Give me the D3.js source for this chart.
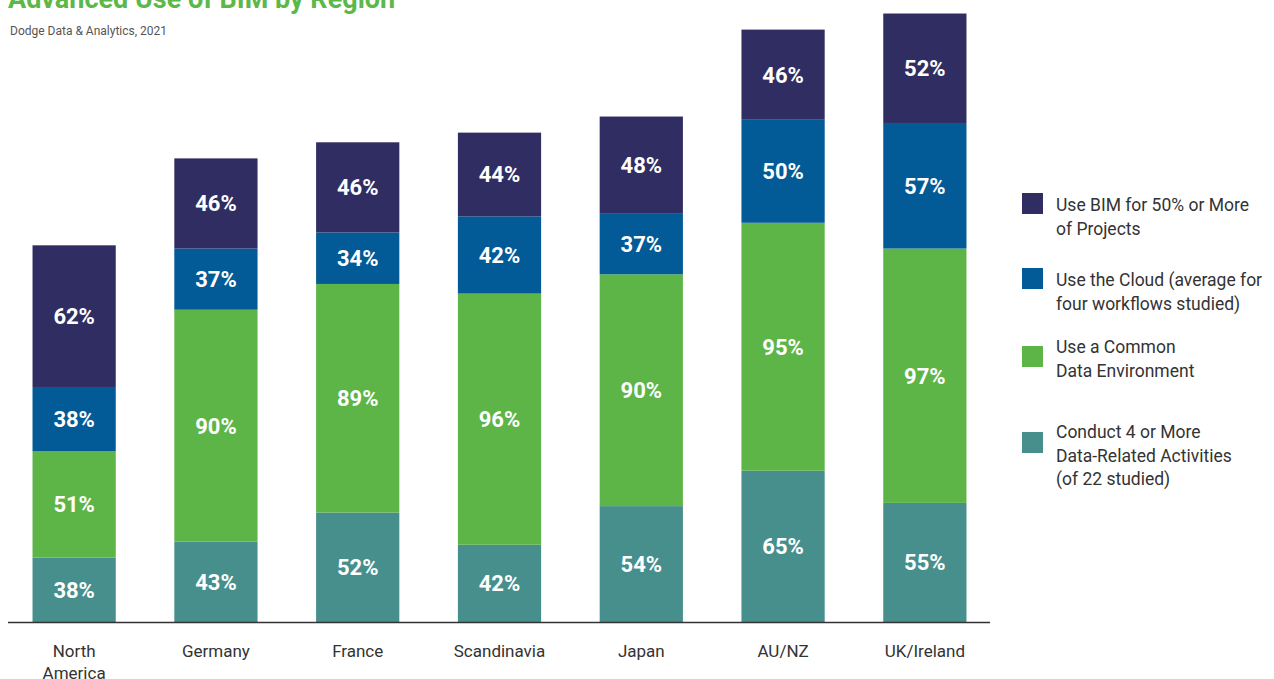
<!DOCTYPE html>
<html>
<head>
<meta charset="utf-8">
<script src="https://cdn.jsdelivr.net/npm/d3@7"></script>
<style>
  body { margin: 0; background: #fff; font-family: Roboto, "Noto Sans", sans-serif; }
  svg { display: block; }
</style>
</head>
<body>
<svg id="chart"></svg>
<script>
// data
const regions = ["North America", "Germany", "France", "Scandinavia", "Japan", "AU/NZ", "UK/Ireland"];
const activities = [38, 43, 52, 42, 54, 65, 55]; // Conduct 4 or more data-related activities
const commonEnv = [51, 90, 89, 96, 90, 95, 97];  // Use a common data environment
const cloud = [38, 37, 34, 42, 37, 50, 57];      // Use the cloud
const bim50 = [62, 46, 46, 44, 48, 46, 52];      // Use BIM for 50% or more

const seriesNames = [
  ["Use BIM for 50% or More", "of Projects"],
  ["Use the Cloud (average for", "four workflows studied)"],
  ["Use a Common", "Data Environment"],
  ["Conduct 4 or More", "Data-Related Activities", "(of 22 studied)"]
];
const colors = ["#302d63", "#025a96", "#5db447", "#468f8c"];

const W = 1274, H = 679;
const baseY = 622;

const svg = d3.select("#chart").attr("width", W).attr("height", H);

// title (cut at the top edge like the original)
svg.append("text")
  .attr("x", 8).attr("y", 8)
  .attr("fill", "#5cb848")
  .attr("font-size", 27).attr("font-weight", 700)
  .text("Advanced Use of BIM by Region");

svg.append("text")
  .attr("x", 10).attr("y", 35)
  .attr("fill", "#555")
  .attr("font-size", 12)
  .text("Dodge Data & Analytics, 2021");

// x band scale for the regions
const x = d3.scaleBand()
  .domain(regions)
  .range([7, 992])
  .paddingInner(0.413)
  .paddingOuter(0.18);

// segment height scale (the original's segments are not drawn from zero)
const h = d3.scaleLinear().domain([18, 100]).range([0, 264]);

// stack bottom to top: activities, common env, cloud, bim
const stackOrder = [activities, commonEnv, cloud, bim50];
const stackColors = [colors[3], colors[2], colors[1], colors[0]];

const segments = [];
regions.forEach((r, i) => {
  let y0 = baseY;
  stackOrder.forEach((arr, s) => {
    const hh = h(arr[i]);
    segments.push({ region: r, value: arr[i], y: y0 - hh, h: hh, color: stackColors[s] });
    y0 -= hh;
  });
});

const g = svg.append("g");

g.selectAll("rect.seg")
  .data(segments)
  .enter().append("rect")
  .attr("class", "seg")
  .attr("x", d => x(d.region))
  .attr("y", d => d.y)
  .attr("width", x.bandwidth())
  .attr("height", d => d.h)
  .attr("fill", d => d.color);

g.selectAll("text.val")
  .data(segments)
  .enter().append("text")
  .attr("class", "val")
  .attr("x", d => x(d.region) + x.bandwidth() / 2)
  .attr("y", d => d.y + d.h / 2)
  .attr("dy", "0.36em")
  .attr("text-anchor", "middle")
  .attr("fill", "#fff")
  .attr("font-size", 22)
  .attr("font-weight", 700)
  .text(d => d.value + "%");

// baseline
svg.append("line")
  .attr("x1", 8).attr("x2", 990)
  .attr("y1", baseY + 0.5).attr("y2", baseY + 0.5)
  .attr("stroke", "#333").attr("stroke-width", 1.5);

// category labels
const labels = svg.selectAll("text.cat")
  .data(regions)
  .enter().append("text")
  .attr("class", "cat")
  .attr("text-anchor", "middle")
  .attr("fill", "#333")
  .attr("font-size", 17)
  .attr("y", 657);

labels.each(function (d) {
  const t = d3.select(this);
  const parts = d === "North America" ? ["North", "America"] : [d];
  parts.forEach((p, k) => {
    t.append("tspan")
      .attr("x", x(d) + x.bandwidth() / 2)
      .attr("dy", k === 0 ? 0 : 22)
      .text(p);
  });
});

// legend
const legendTops = [193, 268, 346, 432];
const legend = svg.append("g");
seriesNames.forEach((lines, i) => {
  legend.append("rect")
    .attr("x", 1022).attr("y", legendTops[i])
    .attr("width", 21).attr("height", 21)
    .attr("fill", colors[i]);
  const firstY = i === 2 ? legendTops[i] + 7 : (i === 3 ? legendTops[i] + 6 : legendTops[i] + 18);
  const t = legend.append("text")
    .attr("fill", "#333")
    .attr("font-size", 17.5)
    .attr("y", firstY);
  lines.forEach((l, k) => {
    t.append("tspan")
      .attr("x", 1056)
      .attr("dy", k === 0 ? 0 : 23.5)
      .text(l);
  });
});
</script>
</body>
</html>
